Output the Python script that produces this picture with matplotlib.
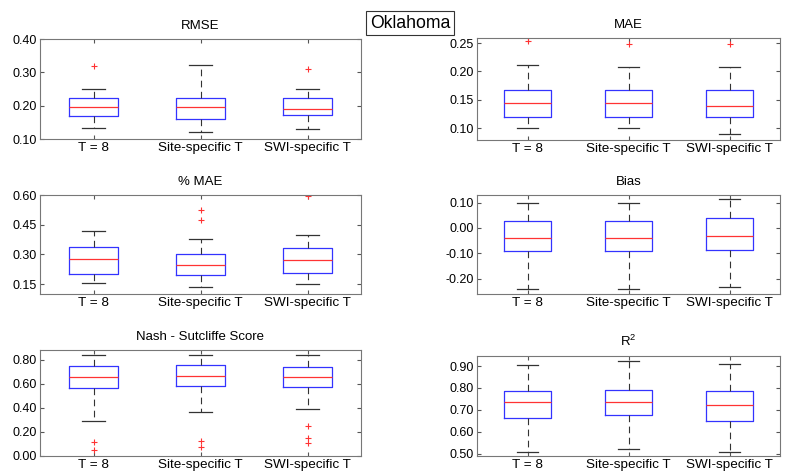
import matplotlib
matplotlib.use("Agg")
import matplotlib.pyplot as plt
from matplotlib.ticker import FormatStrFormatter

plt.rcParams['font.family'] = ['Liberation Sans', 'DejaVu Sans']
plt.rcParams['axes.unicode_minus'] = False
plt.rcParams['mathtext.default'] = 'regular'

groups = ["T = 8", "Site-specific T", "SWI-specific T"]

# each row: [lower whisker, q1, median, q3, upper whisker]
rmse = [[0.133, 0.168, 0.196, 0.223, 0.249],
        [0.120, 0.161, 0.195, 0.224, 0.321],
        [0.129, 0.171, 0.189, 0.224, 0.249]]
rmse_out = [[0.318], [], [0.310]]

mae = [[0.100, 0.119, 0.145, 0.168, 0.212],
       [0.100, 0.119, 0.144, 0.168, 0.207],
       [0.089, 0.119, 0.139, 0.168, 0.207]]
mae_out = [[0.253], [0.248], [0.248]]

pmae = [[0.155, 0.201, 0.277, 0.339, 0.418],
        [0.136, 0.198, 0.248, 0.303, 0.378],
        [0.148, 0.205, 0.274, 0.333, 0.400]]
pmae_out = [[], [0.523, 0.473], [0.593]]

bias = [[-0.242, -0.090, -0.040, 0.029, 0.100],
        [-0.242, -0.090, -0.040, 0.029, 0.100],
        [-0.233, -0.086, -0.031, 0.040, 0.113]]
bias_out = [[], [], []]

nse = [[0.287, 0.567, 0.653, 0.744, 0.836],
       [0.365, 0.584, 0.664, 0.756, 0.836],
       [0.390, 0.576, 0.656, 0.736, 0.836]]
nse_out = [[0.116, 0.050], [0.127, 0.072], [0.249, 0.152, 0.105]]

r2 = [[0.509, 0.663, 0.736, 0.786, 0.903],
      [0.523, 0.675, 0.736, 0.790, 0.923],
      [0.509, 0.651, 0.724, 0.786, 0.909]]
r2_out = [[], [], []]

panels = [
    ("RMSE", rmse, rmse_out, (0.10, 0.40), [0.10, 0.20, 0.30, 0.40], [40, 39, 321, 100]),
    ("MAE", mae, mae_out, (0.079, 0.259), [0.10, 0.15, 0.20, 0.25], [477, 38, 303, 102]),
    ("% MAE", pmae, pmae_out, (0.10, 0.60), [0.15, 0.30, 0.45, 0.60], [40, 195, 321, 99]),
    ("Bias", bias, bias_out, (-0.26, 0.13), [-0.20, -0.10, 0.00, 0.10], [477, 195, 303, 99]),
    ("Nash - Sutcliffe Score", nse, nse_out, (0.0, 0.88), [0.0, 0.2, 0.4, 0.6, 0.8], [40, 350, 321, 106]),
    ("R$^2$", r2, r2_out, (0.489, 0.946), [0.5, 0.6, 0.7, 0.8, 0.9], [477, 356, 303, 100]),
]

W, H = 785, 472
fig = plt.figure(figsize=(W / 100, H / 100), dpi=100)

for title, vals, outs, ylim, yticks, (px, py, pw, ph) in panels:
    ax = fig.add_axes([px / W, 1 - (py + ph) / H, pw / W, ph / H])
    stats = []
    for g, v, o in zip(groups, vals, outs):
        stats.append(dict(label=g, whislo=v[0], q1=v[1], med=v[2], q3=v[3],
                          whishi=v[4], fliers=o))
    ax.bxp(stats, positions=[1, 2, 3], widths=0.46, capwidths=0.21,
           boxprops=dict(color='#3333ff', linewidth=0.9),
           medianprops=dict(color='#ff3333', linewidth=0.9),
           whiskerprops=dict(color='#333333', linestyle=(0, (6, 4)), linewidth=0.8),
           capprops=dict(color='#333333', linewidth=0.9),
           flierprops=dict(marker='+', markeredgecolor='#ff3333', markersize=5,
                           markeredgewidth=0.8, linestyle='none'))
    ax.set_xlim(0.5, 3.5)
    ax.set_ylim(*ylim)
    ax.set_yticks(yticks)
    ax.yaxis.set_major_formatter(FormatStrFormatter('%.2f'))
    ax.set_title(title, fontsize=9.5, pad=7)
    ax.tick_params(direction='in', top=True, right=True, length=3,
                   labelsize=9, pad=2, color='#555555')
    ax.tick_params(axis='x', labelsize=9.7)
    for s in ax.spines.values():
        s.set_color('#777777')
        s.set_linewidth(0.8)

fig.text(410 / W, 1 - 23 / H, "Oklahoma", fontsize=12.7, ha='center', va='center',
         bbox=dict(facecolor='white', edgecolor='#333333', linewidth=0.8,
                   boxstyle='square,pad=0.22'))

fig.savefig("out.png", dpi=100)
